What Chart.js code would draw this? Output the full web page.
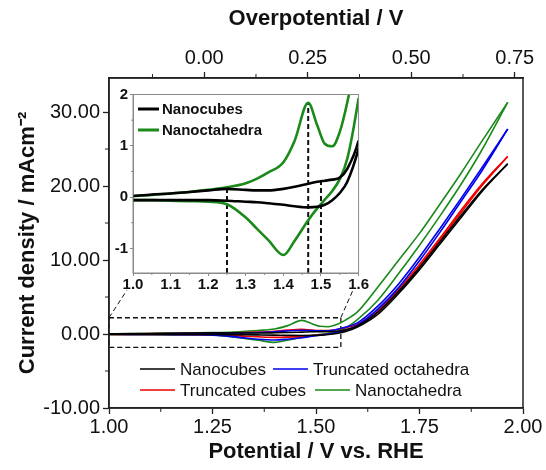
<!DOCTYPE html>
<html>
<head>
<meta charset="utf-8">
<script src="https://cdn.jsdelivr.net/npm/chart.js@4.4.1/dist/chart.umd.min.js"></script>
<style>
  html, body { margin: 0; padding: 0; background: #fff; }
  #wrap { position: relative; width: 546px; height: 470px; }
  #mainChart { position: absolute; left: 0; top: 0; }
  #insetChart { position: absolute; left: 100px; top: 85px; }
</style>
</head>
<body>
<div id="wrap">
  <canvas id="mainChart" width="546" height="470"></canvas>
  <canvas id="insetChart" width="270" height="215"></canvas>
</div>
<script>
// potential grid (V vs RHE), same for both scan directions
const scanE = [1.00, 1.05, 1.10, 1.15, 1.20, 1.25, 1.30, 1.33, 1.36, 1.40, 1.43, 1.466, 1.49, 1.51, 1.53, 1.55, 1.57, 1.60, 1.65, 1.70, 1.75, 1.80, 1.85, 1.90, 1.963];

// current density, mA cm-2 (Fwd = anodic scan, Rev = return scan)
const cubesFwd = [0.02, 0.05, 0.07, 0.10, 0.13, 0.16, 0.14, 0.13, 0.13, 0.16, 0.20, 0.26, 0.30, 0.32, 0.34, 0.38, 0.55, 1.10, 3.0, 5.8, 9.0, 12.5, 16.0, 19.4, 23.0];
const cubesRev = [-0.06, -0.06, -0.06, -0.06, -0.06, -0.07, -0.09, -0.10, -0.12, -0.15, -0.18, -0.20, -0.19, -0.15, -0.06, 0.08, 0.30, 0.95, 2.7, 5.5, 8.7, 12.2, 15.7, 19.2, 23.0];
const truncCubesFwd = [0.02, 0.03, 0.05, 0.07, 0.09, 0.12, 0.16, 0.20, 0.26, 0.38, 0.52, 0.62, 0.52, 0.46, 0.47, 0.60, 0.85, 1.30, 3.3, 6.1, 9.4, 13.0, 16.7, 20.2, 24.0];
const truncCubesRev = [-0.05, -0.05, -0.06, -0.07, -0.09, -0.12, -0.20, -0.30, -0.38, -0.45, -0.42, -0.32, -0.20, -0.10, 0.02, 0.18, 0.45, 1.10, 3.0, 5.8, 9.1, 12.7, 16.4, 20.0, 24.0];
const truncOctaFwd = [0.01, 0.02, 0.03, 0.05, 0.06, 0.08, 0.12, 0.16, 0.20, 0.30, 0.42, 0.50, 0.46, 0.42, 0.45, 0.60, 0.90, 1.50, 3.8, 6.8, 10.4, 14.3, 18.3, 22.4, 27.7];
const truncOctaRev = [-0.04, -0.05, -0.06, -0.08, -0.10, -0.15, -0.35, -0.55, -0.70, -0.80, -0.70, -0.50, -0.30, -0.15, 0.00, 0.20, 0.50, 1.20, 3.4, 6.3, 9.9, 13.8, 17.9, 22.0, 27.7];
const octaFwd = [0.02, 0.04, 0.07, 0.10, 0.14, 0.19, 0.27, 0.36, 0.48, 0.68, 1.10, 1.84, 1.40, 1.04, 0.99, 1.27, 1.85, 3.0, 6.4, 10.0, 13.6, 17.6, 21.7, 26.0, 31.3];
const octaRev = [-0.06, -0.06, -0.07, -0.08, -0.09, -0.14, -0.40, -0.62, -0.84, -1.13, -0.85, -0.45, -0.22, -0.05, 0.12, 0.35, 0.75, 1.93, 4.6, 8.2, 12.0, 16.0, 20.2, 24.8, 31.3];

const seriesNames = ['Nanocubes', 'Truncated octahedra', 'Truncated cubes', 'Nanoctahedra'];
const seriesColors = ['#000000', '#0000ee', '#ee0000', '#1a8a1a'];

// dashed guides in the inset
const markerE = [1.25, 1.466, 1.50];
const markerTop = [0.17, 1.84, 0.31];

// zoom box in the main plot and where its connectors end
const boxE = [1.00, 1.56];
const boxJ = [-1.8, 2.2];
const linkE = [1.043, 1.589];
const linkJ = 5.9;

// ticks
const xTicks = [1.00, 1.25, 1.50, 1.75, 2.00];
const xMinor = [1.125, 1.375, 1.625, 1.875];
const yTicks = [-10, 0, 10, 20, 30];
const yMinor = [-5, 5, 15, 25];
const etaTicks = [0, 0.25, 0.50, 0.75];
const etaMinor = [-0.125, 0.125, 0.375, 0.625];
const insetXTicks = [1.0, 1.1, 1.2, 1.3, 1.4, 1.5, 1.6];
const insetXMinor = [1.05, 1.15, 1.25, 1.35, 1.45, 1.55];
const insetYTicks = [-1, 0, 1, 2];
const insetYMinor = [-0.5, 0.5, 1.5];

const FONT = '"Liberation Sans", Arial, sans-serif';
const AXIS = '#222';

function pts(xs, ys) {
    return xs.map((x, i) => ({ x: x, y: ys[i] }));
}

function curve(ys, color, width) {
    return {
        data: pts(scanE, ys),
        showLine: true,
        borderColor: color,
        borderWidth: width,
        pointRadius: 0,
        cubicInterpolationMode: 'monotone'
    };
}

function dashed(points, width) {
    return {
        data: points,
        showLine: true,
        borderColor: '#111',
        borderWidth: width,
        borderDash: [5, 3],
        pointRadius: 0,
        clip: false
    };
}

function drawMinor(chart, id, values, len, color) {
    const s = chart.scales[id];
    const c = chart.ctx;
    c.save();
    c.strokeStyle = color;
    c.lineWidth = 1;
    c.beginPath();
    values.forEach((v) => {
        const p = s.getPixelForValue(v);
        if (s.isHorizontal()) {
            const top = s.options.position === 'top';
            const y0 = top ? s.bottom : s.top;
            c.moveTo(p, y0);
            c.lineTo(p, y0 + (top ? -len : len));
        } else {
            c.moveTo(s.right, p);
            c.lineTo(s.right - len, p);
        }
    });
    c.stroke();
    c.restore();
}

// ---------- main chart ----------
const mainDecor = {
    id: 'mainDecor',
    afterDraw(chart) {
        const c = chart.ctx;
        const a = chart.chartArea;
        drawMinor(chart, 'x', xMinor, 4, AXIS);
        drawMinor(chart, 'x2', etaMinor, 4, AXIS);
        drawMinor(chart, 'y', yMinor, 4, AXIS);

        c.save();
        c.strokeStyle = AXIS;
        c.lineWidth = 1.5;
        c.strokeRect(a.left, a.top, a.right - a.left, a.bottom - a.top);

        // legend
        const slots = [[140, 369], [273, 369], [140, 390], [315, 390]];
        c.font = '17px ' + FONT;
        c.textBaseline = 'middle';
        c.fillStyle = '#111';
        seriesNames.forEach((name, i) => {
            const [lx, ly] = slots[i];
            c.strokeStyle = seriesColors[i];
            c.lineWidth = 1.6;
            c.beginPath();
            c.moveTo(lx, ly);
            c.lineTo(lx + 35, ly);
            c.stroke();
            c.fillText(name, lx + 40, ly + 1);
        });
        c.restore();
    }
};

const order = [
    [cubesFwd, cubesRev],
    [truncOctaFwd, truncOctaRev],
    [truncCubesFwd, truncCubesRev],
    [octaFwd, octaRev]
];

const mainSets = [];
order.forEach((pair, i) => {
    mainSets.push(curve(pair[0], seriesColors[i], 1.6));
    mainSets.push(curve(pair[1], seriesColors[i], 1.6));
});
mainSets.push(dashed([
    { x: boxE[0], y: boxJ[1] }, { x: boxE[1], y: boxJ[1] },
    { x: boxE[1], y: boxJ[0] }, { x: boxE[0], y: boxJ[0] },
    { x: boxE[0], y: boxJ[1] }
], 1.3));
mainSets.push(dashed([{ x: boxE[0], y: boxJ[1] }, { x: linkE[0], y: linkJ }], 1));
mainSets.push(dashed([{ x: boxE[1], y: boxJ[1] }, { x: linkE[1], y: linkJ }], 1));

new Chart(document.getElementById('mainChart'), {
    type: 'scatter',
    data: { datasets: mainSets },
    options: {
        responsive: false,
        animation: false,
        layout: { padding: { left: 0, right: 23, top: 0, bottom: 0 } },
        plugins: { legend: { display: false }, tooltip: { enabled: false } },
        scales: {
            x: {
                type: 'linear',
                position: 'bottom',
                min: 1.0,
                max: 2.0,
                afterFit: (s) => { s.height = 62; },
                afterBuildTicks: (s) => { s.ticks = xTicks.map((v) => ({ value: v })); },
                ticks: {
                    callback: (v) => Number(v).toFixed(2),
                    font: { family: FONT, size: 20 },
                    color: '#111',
                    padding: 1,
                    maxRotation: 0,
                    autoSkip: false
                },
                grid: { drawOnChartArea: false, tickLength: 6, tickColor: AXIS, tickWidth: 1.3 },
                border: { color: AXIS, width: 1.5 },
                title: {
                    display: true,
                    text: 'Potential / V vs. RHE',
                    font: { family: FONT, size: 22, weight: 'bold' },
                    color: '#111',
                    padding: { top: 0, bottom: 5 }
                }
            },
            x2: {
                type: 'linear',
                position: 'top',
                min: -0.23,
                max: 0.77,
                afterFit: (s) => { s.height = 78; },
                afterBuildTicks: (s) => { s.ticks = etaTicks.map((v) => ({ value: v })); },
                ticks: {
                    callback: (v) => Number(v).toFixed(2),
                    font: { family: FONT, size: 20 },
                    color: '#111',
                    padding: 2,
                    maxRotation: 0,
                    autoSkip: false
                },
                grid: { drawOnChartArea: false, tickLength: 6, tickColor: AXIS, tickWidth: 1.3 },
                border: { color: AXIS, width: 1.5 },
                title: {
                    display: true,
                    text: 'Overpotential / V',
                    font: { family: FONT, size: 22, weight: 'bold' },
                    color: '#111',
                    padding: { top: 6, bottom: 0 }
                }
            },
            y: {
                type: 'linear',
                position: 'left',
                min: -10,
                max: 34.6,
                afterFit: (s) => { s.width = 109; },
                afterBuildTicks: (s) => { s.ticks = yTicks.map((v) => ({ value: v })); },
                ticks: {
                    callback: (v) => Number(v).toFixed(2),
                    font: { family: FONT, size: 20 },
                    color: '#111',
                    padding: 3
                },
                grid: { drawOnChartArea: false, tickLength: 6, tickColor: AXIS, tickWidth: 1.3 },
                border: { color: AXIS, width: 1.5 },
                title: {
                    display: true,
                    text: 'Current density / mAcm\u207B\u00B2',
                    font: { family: FONT, size: 22, weight: 'bold' },
                    color: '#111',
                    padding: { top: 15, bottom: 0 }
                }
            }
        }
    },
    plugins: [mainDecor]
});

// ---------- inset ----------
const INSET_AXIS = '#8a8a8a';
const insetDecor = {
    id: 'insetDecor',
    afterDraw(chart) {
        const c = chart.ctx;
        const a = chart.chartArea;
        drawMinor(chart, 'x', insetXMinor, 2, INSET_AXIS);
        drawMinor(chart, 'y', insetYMinor, 2, INSET_AXIS);
        c.save();
        c.strokeStyle = INSET_AXIS;
        c.lineWidth = 1;
        c.strokeRect(a.left, a.top, a.right - a.left, a.bottom - a.top);

        const names = [seriesNames[0], seriesNames[3]];
        const cols = [seriesColors[0], seriesColors[3]];
        c.font = 'bold 15px ' + FONT;
        c.textBaseline = 'middle';
        c.fillStyle = '#111';
        names.forEach((name, i) => {
            const y = 24 + i * 21;
            c.strokeStyle = cols[i];
            c.lineWidth = 3;
            c.beginPath();
            c.moveTo(38, y);
            c.lineTo(59, y);
            c.stroke();
            c.fillText(name, 62, y + 1);
        });
        c.restore();
    }
};

const insetSets = [
    curve(cubesFwd, seriesColors[0], 2.6),
    curve(cubesRev, seriesColors[0], 2.6),
    curve(octaFwd, seriesColors[3], 2.6),
    curve(octaRev, seriesColors[3], 2.6)
];
markerE.forEach((e, i) => {
    insetSets.push(dashed([{ x: e, y: -1.48 }, { x: e, y: markerTop[i] }], 2));
});

new Chart(document.getElementById('insetChart'), {
    type: 'scatter',
    data: { datasets: insetSets },
    options: {
        responsive: false,
        animation: false,
        layout: { padding: { left: 0, right: 10, top: 8, bottom: 0 } },
        plugins: { legend: { display: false }, tooltip: { enabled: false } },
        scales: {
            x: {
                type: 'linear',
                min: 1.0,
                max: 1.6,
                afterFit: (s) => { s.height = 27; },
                afterBuildTicks: (s) => { s.ticks = insetXTicks.map((v) => ({ value: v })); },
                ticks: {
                    callback: (v) => Number(v).toFixed(1),
                    font: { family: FONT, size: 15, weight: 'bold', lineHeight: 1 },
                    color: '#111',
                    padding: 1,
                    maxRotation: 0,
                    autoSkip: false
                },
                grid: { drawOnChartArea: false, tickLength: 3, tickColor: INSET_AXIS },
                border: { color: INSET_AXIS, width: 1 }
            },
            y: {
                type: 'linear',
                min: -1.48,
                max: 2,
                afterFit: (s) => { s.width = 33; },
                afterBuildTicks: (s) => { s.ticks = insetYTicks.map((v) => ({ value: v })); },
                ticks: {
                    callback: (v) => String(v),
                    font: { family: FONT, size: 15, weight: 'bold', lineHeight: 1 },
                    color: '#111',
                    padding: 2
                },
                grid: { drawOnChartArea: false, tickLength: 3, tickColor: INSET_AXIS },
                border: { color: INSET_AXIS, width: 1 }
            }
        }
    },
    plugins: [insetDecor]
});
</script>
</body>
</html>
